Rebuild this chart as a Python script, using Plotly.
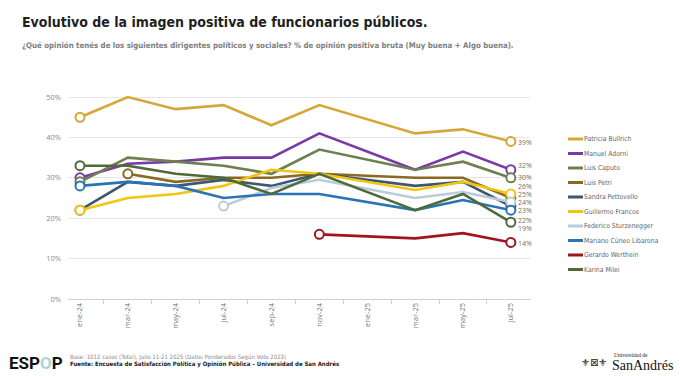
import plotly.graph_objects as go

categories = ["ene-24", "mar-24", "may-24", "jul-24", "sep-24", "nov-24",
              "ene-25", "mar-25", "may-25", "jul-25"]

names = ["Patricia Bullrich", "Manuel Adorni", "Luis Caputo", "Luis Petri",
         "Sandra Pettovello", "Guillermo Francos", "Federico Sturzenegger",
         "Mariano Cúneo Libarona", "Gerardo Werthein", "Karina Milei"]

colors = ["#D6A637", "#7A3AA6", "#6E8050", "#8A6A22", "#3E5670",
          "#F2C511", "#B9CCDA", "#2874B4", "#A0141E", "#4E6A3A"]

N = None
bullrich     = [45, 50, 47, 48, 43, 48, N, 41, 42, 39]
adorni       = [30, 33.5, 34, 35, 35, 41, N, 32, 36.5, 32]
caputo       = [29, 35, 34, 33, 31, 37, N, 32, 34, 30]
petri        = [N, 31, 29, 30, 30, 31, N, 30, 30, 25]
pettovello   = [22, 29, 28, 29.5, 28, 31, N, 28, 29, 23]
francos      = [22, 25, 26, 28, 32, 31, N, 27, 29, 26]
sturzenegger = [N, N, N, 23, 27.5, 29.5, N, 25, 26.5, 24]
cuneo        = [28, 29, 28, 25, 26, 26, N, 22, 24.5, 22]
werthein     = [N, N, N, N, N, 16, N, 15, 16.3, 14]
milei        = [33, 33, 31, 30, 26, 31, N, 22, 26, 19]

series = [bullrich, adorni, caputo, petri, pettovello, francos,
          sturzenegger, cuneo, werthein, milei]

end_labels = ["39%", "32%", "30%", "25%", "23%", "26%", "24%", "22%", "14%", "19%"]
label_shift = [-1.5, 4, 0, 4, -4, 7, 0, -10, -1.5, -6]

L, R, T, B = 68, 150, 93, 77
W, H = 680, 376
PW, PH = W - L - R, H - T - B


def px(x):
    return (x - L) / PW


def py(y):
    return (H - B - y) / PH


fig = go.Figure()
for name, col, vals in zip(names, colors, series):
    idx = [i for i, v in enumerate(vals) if v is not None]
    first, last = idx[0], idx[-1]
    op = [1 if i in (first, last) else 0 for i in range(len(vals))]
    fig.add_trace(go.Scatter(
        x=categories, y=vals, name=name, mode="lines+markers",
        connectgaps=True, showlegend=False, hoverinfo="skip",
        line=dict(color=col, width=2.6),
        marker=dict(symbol="circle", size=9, color="white", opacity=op,
                    line=dict(color=col, width=2)),
        cliponaxis=False,
    ))

COND = "DejaVu Sans Condensed, DejaVu Sans, sans-serif"

annotations = []
for vals, lab, sh in zip(series, end_labels, label_shift):
    annotations.append(dict(
        x=categories[-1], y=vals[-1], xref="x", yref="y", text=lab,
        showarrow=False, xanchor="left", yanchor="middle", xshift=5, yshift=sh,
        font=dict(size=7, color="#707070", family="Open Sans, sans-serif")))

# legend
shapes = []
for i, (name, col) in enumerate(zip(names, colors)):
    yy = 139 + i * 14.5
    shapes.append(dict(type="line", xref="paper", yref="paper",
                       x0=px(568), x1=px(583), y0=py(yy), y1=py(yy),
                       line=dict(color=col, width=3)))
    annotations.append(dict(x=px(582), y=py(yy), xref="paper", yref="paper",
                            text=name, showarrow=False, xanchor="left",
                            yanchor="middle",
                            font=dict(size=6.8, color="#666666", family=COND)))

annotations += [
    dict(x=px(20), y=py(22), xref="paper", yref="paper", xanchor="left",
         yanchor="middle", showarrow=False,
         text="<b>Evolutivo de la imagen positiva de funcionarios públicos.</b>",
         font=dict(size=14, color="#1f1f1f", family=COND)),
    dict(x=px(20), y=py(45), xref="paper", yref="paper", xanchor="left",
         yanchor="middle", showarrow=False,
         text="<b>¿Qué opinión tenés de los siguientes dirigentes políticos y sociales? % de opinión positiva bruta (Muy buena + Algo buena).</b>",
         font=dict(size=7.8, color="#808080", family=COND)),
    dict(x=px(7), y=py(363), xref="paper", yref="paper", xanchor="left",
         yanchor="middle", showarrow=False,
         text="<b>ESP<span style='color:#A9D6D3'>O</span>P</b>",
         font=dict(size=17, color="#111111", family="Roboto, sans-serif")),
    dict(x=px(68), y=py(357), xref="paper", yref="paper", xanchor="left",
         yanchor="middle", showarrow=False,
         text="Base: 1012 casos (Total), Julio 11-21 2025 (Datos Ponderados Según Voto 2023)",
         font=dict(size=6, color="#8a8a8a", family=COND)),
    dict(x=px(68), y=py(364), xref="paper", yref="paper", xanchor="left",
         yanchor="middle", showarrow=False,
         text="<b>Fuente: Encuesta de Satisfacción Política y Opinión Pública – Universidad de San Andrés</b>",
         font=dict(size=6, color="#1a1a1a", family=COND)),
    dict(x=px(612), y=py(355), xref="paper", yref="paper", xanchor="left",
         yanchor="middle", showarrow=False, text="Universidad de",
         font=dict(size=5.5, color="#222222", family="Liberation Serif, serif")),
    dict(x=px(610), y=py(365), xref="paper", yref="paper", xanchor="left",
         yanchor="middle", showarrow=False, text="SanAndrés",
         font=dict(size=14, color="#111111", family="Liberation Serif, serif")),
    dict(x=px(594), y=py(362), xref="paper", yref="paper", xanchor="center",
         yanchor="middle", showarrow=False, text="⚜⊠⚜",
         font=dict(size=10, color="#222222", family="DejaVu Sans, sans-serif")),
]

fig.update_layout(
    width=W, height=H, margin=dict(l=L, r=R, t=T, b=B),
    paper_bgcolor="white", plot_bgcolor="white", hovermode=False,
    showlegend=False, annotations=annotations, shapes=shapes,
    xaxis=dict(type="category", categoryorder="array", categoryarray=categories,
               range=[-0.25, 9.4], tickangle=-90, showgrid=False,
               showline=True, linecolor="#cfcfcf", linewidth=1,
               ticks="outside", tickson="boundaries", ticklen=4,
               tickcolor="#d0d0d0",
               tickfont=dict(size=7.5, color="#777777",
                             family="Open Sans, sans-serif")),
    yaxis=dict(range=[0, 51], tickvals=[0, 10, 20, 30, 40, 50],
               ticktext=["0%", "10%", "20%", "30%", "40%", "50%"],
               showgrid=True, gridcolor="#e6e6e6", gridwidth=1,
               zeroline=False, showline=False, ticks="", ticklen=0,
               ticklabelstandoff=6,
               tickfont=dict(size=7.5, color="#8a8a8a",
                             family="Open Sans, sans-serif")),
)

fig.write_html("out.html", config={"displayModeBar": False},
               post_script="document.body.style.margin='0';document.body.style.overflow='hidden';")
